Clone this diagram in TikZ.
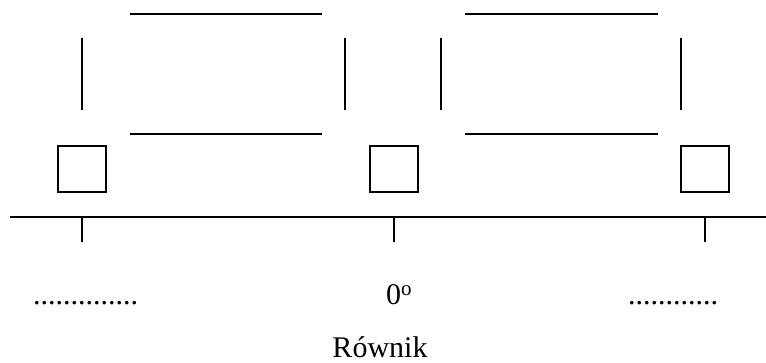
\documentclass[tikz,border=0pt]{standalone}
\usepackage{fontspec}
\setmainfont{Liberation Serif}
\begin{document}
\begin{tikzpicture}[x=1pt,y=-1pt,
  ln/.style={line width=2pt},
  sq/.style={draw,line width=2pt,minimum width=48pt,minimum height=46pt,inner sep=0pt,anchor=center},
  lbl/.style={font=\fontsize{30pt}{34pt}\selectfont,inner sep=0pt}]
\useasboundingbox (0,0) rectangle (766,363);
% upper rectangles (open frames)
\coordinate (a1) at (130,14); \coordinate (a2) at (322,14);
\coordinate (b1) at (130,134); \coordinate (b2) at (322,134);
\coordinate (c1) at (82,38); \coordinate (c2) at (82,110);
\coordinate (d1) at (345,38); \coordinate (d2) at (345,110);
\draw[ln] (a1) -- (a2);
\draw[ln] (b1) -- (b2);
\draw[ln] (c1) -- (c2);
\draw[ln] (d1) -- (d2);
\coordinate (e1) at (465,14); \coordinate (e2) at (658,14);
\coordinate (f1) at (465,134); \coordinate (f2) at (658,134);
\coordinate (g1) at (441,38); \coordinate (g2) at (441,110);
\coordinate (h1) at (681,38); \coordinate (h2) at (681,110);
\draw[ln] (e1) -- (e2);
\draw[ln] (f1) -- (f2);
\draw[ln] (g1) -- (g2);
\draw[ln] (h1) -- (h2);
% boxes
\node[sq] (s1) at (82,169) {};
\node[sq] (s2) at (393.5,169) {};
\node[sq] (s3) at (704.5,169) {};
% axis and ticks
\coordinate (axL) at (10,217); \coordinate (axR) at (766,217);
\draw[ln] (axL) -- (axR);
\coordinate (t1a) at (82,217); \coordinate (t1b) at (82,242);
\coordinate (t2a) at (394,217); \coordinate (t2b) at (394,242);
\coordinate (t3a) at (705,217); \coordinate (t3b) at (705,242);
\draw[ln] (t1a) -- (t1b);
\draw[ln] (t2a) -- (t2b);
\draw[ln] (t3a) -- (t3b);
% labels
\node[lbl,anchor=base west] (dl) at (33,305) {..............};
\node[lbl,anchor=base west] (zero) at (386,305) {0\textsuperscript{o}};
\node[lbl,anchor=base west] (dr) at (628,305) {............};
\node[lbl,anchor=base] (eq) at (380,358) {Równik};
\end{tikzpicture}
\end{document}
